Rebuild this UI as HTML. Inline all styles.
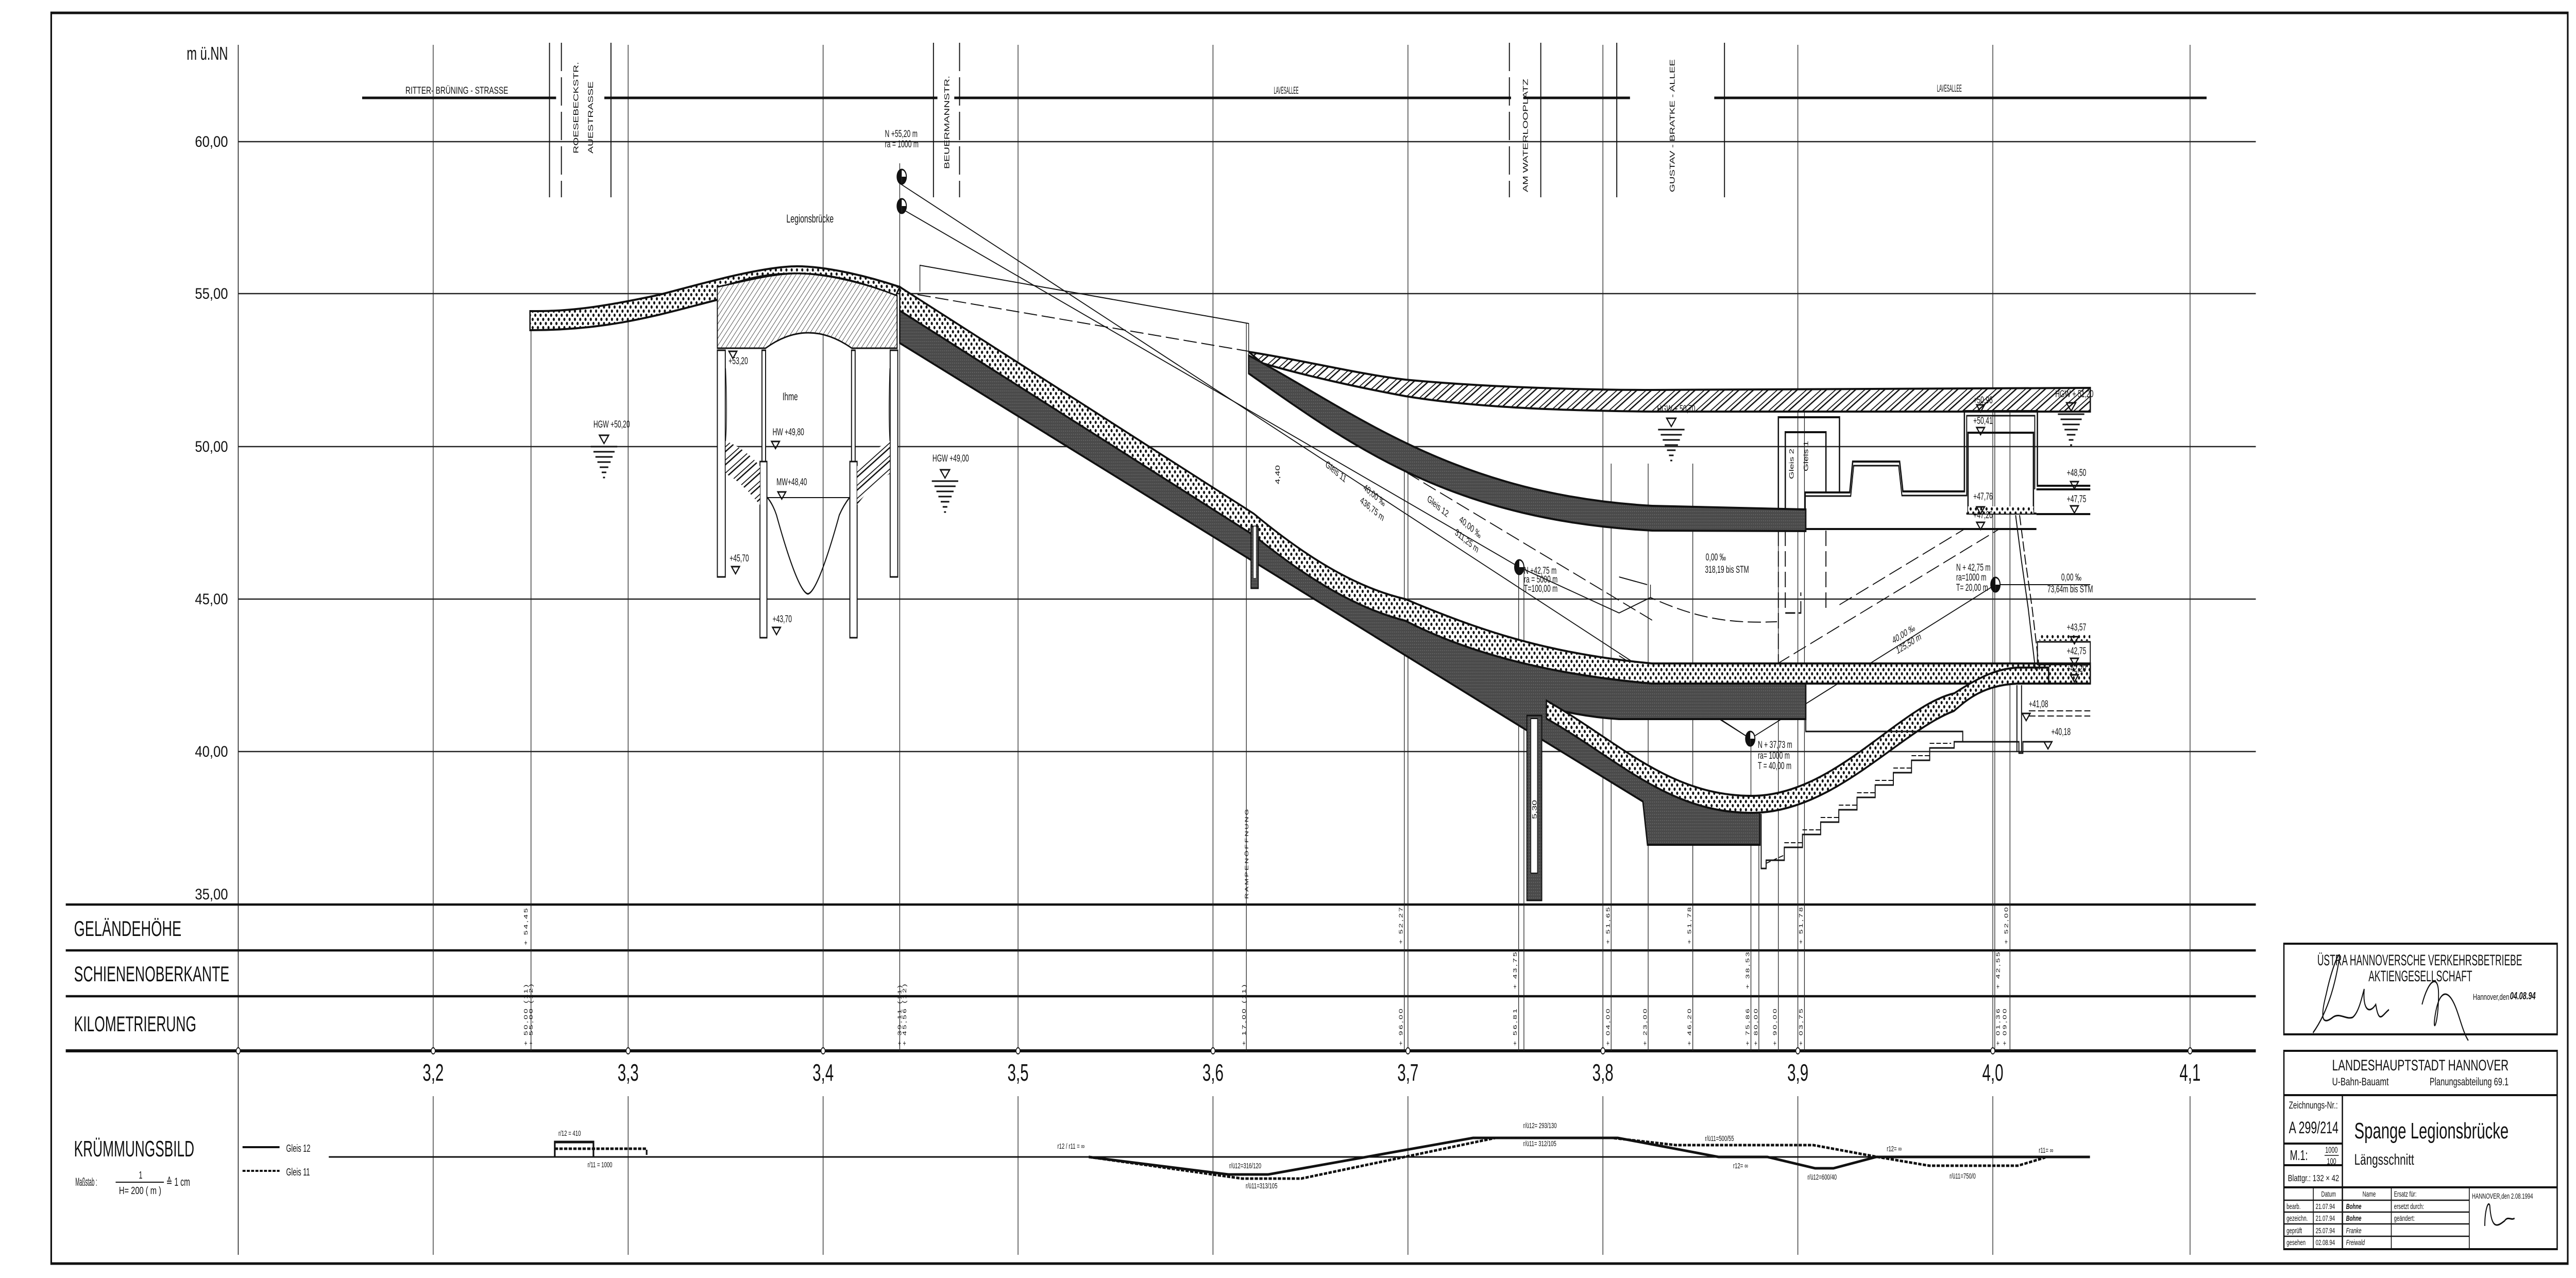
<!DOCTYPE html>
<html><head><meta charset="utf-8"><style>
html,body{margin:0;padding:0;background:#fff;width:100vw;height:100vh;overflow:hidden}
svg{display:block;width:100vw;height:100vh}
text{font-family:"Liberation Sans",sans-serif;fill:#111}
</style></head><body>
<svg viewBox="0 0 7796 2481" preserveAspectRatio="none" xmlns="http://www.w3.org/2000/svg">
<defs>
<pattern id="dots" width="16" height="16" patternUnits="userSpaceOnUse"><rect width="16" height="16" fill="#fff"/><circle cx="4" cy="4" r="3.2" fill="#111"/><circle cx="12" cy="12" r="3.2" fill="#111"/></pattern>
<pattern id="hatch" width="10" height="10" patternUnits="userSpaceOnUse" patternTransform="rotate(45)"><rect width="10" height="10" fill="#fff"/><line x1="0" y1="0" x2="0" y2="10" stroke="#222" stroke-width="2"/></pattern>
<pattern id="ground" width="22" height="22" patternUnits="userSpaceOnUse" patternTransform="rotate(60)"><rect width="22" height="22" fill="#fff"/><line x1="0" y1="0" x2="0" y2="22" stroke="#111" stroke-width="4"/><line x1="9" y1="0" x2="9" y2="22" stroke="#111" stroke-width="3"/></pattern>
<pattern id="dark" width="6" height="6" patternUnits="userSpaceOnUse"><rect width="6" height="6" fill="#4a4a4a"/><circle cx="3" cy="3" r="1.2" fill="#6a6a6a"/></pattern>
<g id="wsym"><path d="M-14,0 L14,0 L0,16 Z" fill="none" stroke="#111" stroke-width="3"/><g stroke="#111" stroke-width="3"><line x1="-40" y1="22" x2="40" y2="22"/><line x1="-32" y1="32" x2="32" y2="32"/><line x1="-26" y1="42" x2="26" y2="42"/><line x1="-20" y1="52" x2="20" y2="52"/><line x1="-13" y1="62" x2="13" y2="62"/><line x1="-7" y1="72" x2="7" y2="72"/><line x1="-3" y1="82" x2="3" y2="82"/></g></g>
<g id="tri"><path d="M-12,0 L12,0 L0,14 Z" fill="none" stroke="#111" stroke-width="3"/></g>
<g id="nsym"><circle r="14" fill="#fff" stroke="#111" stroke-width="3"/><path d="M0,-14 A14,14 0 0 0 0,14 Z" fill="#111"/><path d="M0,0 L14,0 A14,14 0 0 1 0,14 Z" fill="#111"/></g>
</defs>
<rect width="7796" height="2481" fill="#fff"/>

<rect x="155" y="25" width="7616" height="2428" fill="none" stroke="#111" stroke-width="5"/>

<g stroke="#222" stroke-width="2.5">
<line x1="721" y1="87" x2="721" y2="2436"/>
<line x1="721" y1="275" x2="6827" y2="275"/>
<line x1="721" y1="570" x2="6827" y2="570"/>
<line x1="721" y1="867" x2="6827" y2="867"/>
<line x1="721" y1="1163" x2="6827" y2="1163"/>
<line x1="721" y1="1459" x2="6827" y2="1459"/>
</g>
<g stroke="#111" stroke-width="4.5">
<line x1="199" y1="1756" x2="6827" y2="1756"/>
<line x1="199" y1="1845" x2="6827" y2="1845"/>
<line x1="199" y1="1934" x2="6827" y2="1934"/>
<line x1="199" y1="2040" x2="6827" y2="2040" stroke-width="6"/>
</g>
<g stroke="#222" stroke-width="2">
<line x1="1311" y1="87" x2="1311" y2="2040"/><line x1="1901" y1="87" x2="1901" y2="2040"/><line x1="2491" y1="87" x2="2491" y2="2040"/><line x1="3081" y1="87" x2="3081" y2="2040"/><line x1="3671" y1="87" x2="3671" y2="2040"/><line x1="4261" y1="87" x2="4261" y2="2040"/><line x1="4851" y1="87" x2="4851" y2="2040"/><line x1="5441" y1="87" x2="5441" y2="2040"/><line x1="6031" y1="87" x2="6031" y2="2040"/><line x1="6628" y1="87" x2="6628" y2="2040"/>
<line x1="1311" y1="2128" x2="1311" y2="2436"/><line x1="1901" y1="2128" x2="1901" y2="2436"/><line x1="2491" y1="2128" x2="2491" y2="2436"/><line x1="3081" y1="2128" x2="3081" y2="2436"/><line x1="3671" y1="2128" x2="3671" y2="2436"/><line x1="4261" y1="2128" x2="4261" y2="2436"/><line x1="4851" y1="2128" x2="4851" y2="2436"/><line x1="5441" y1="2128" x2="5441" y2="2436"/><line x1="6031" y1="2128" x2="6031" y2="2436"/><line x1="6628" y1="2128" x2="6628" y2="2436"/>
<line x1="1607" y1="641" x2="1607" y2="2040"/>
<line x1="2723" y1="317" x2="2723" y2="2040"/>
<line x1="3772" y1="628" x2="3772" y2="2040"/>
<line x1="4250" y1="900" x2="4250" y2="2040"/>
<line x1="4596" y1="1100" x2="4596" y2="2040"/><line x1="4612" y1="1100" x2="4612" y2="2040"/>
<line x1="4876" y1="900" x2="4876" y2="2040"/>
<line x1="4988" y1="900" x2="4988" y2="2040"/>
<line x1="5123" y1="900" x2="5123" y2="2040"/>
<line x1="5299" y1="1430" x2="5299" y2="2040"/><line x1="5323" y1="1560" x2="5323" y2="2040"/><line x1="5382" y1="960" x2="5382" y2="2040"/>
<line x1="5461" y1="780" x2="5461" y2="2040"/>
<line x1="6037" y1="780" x2="6037" y2="2040"/><line x1="6083" y1="780" x2="6083" y2="2040"/>
</g>
<g fill="#fff" stroke="#111" stroke-width="2"><circle cx="721" cy="2040" r="6"/><circle cx="1311" cy="2040" r="6"/><circle cx="1901" cy="2040" r="6"/><circle cx="2491" cy="2040" r="6"/><circle cx="3081" cy="2040" r="6"/><circle cx="3671" cy="2040" r="6"/><circle cx="4261" cy="2040" r="6"/><circle cx="4851" cy="2040" r="6"/><circle cx="5441" cy="2040" r="6"/><circle cx="6031" cy="2040" r="6"/><circle cx="6628" cy="2040" r="6"/></g>

<text x="690" y="116" font-size="36" text-anchor="end" textLength="125" lengthAdjust="spacingAndGlyphs">m ü.NN</text>
<g font-size="30" text-anchor="end">
<text x="690" y="285" textLength="100" lengthAdjust="spacingAndGlyphs">60,00</text>
<text x="690" y="580" textLength="100" lengthAdjust="spacingAndGlyphs">55,00</text>
<text x="690" y="877" textLength="100" lengthAdjust="spacingAndGlyphs">50,00</text>
<text x="690" y="1173" textLength="100" lengthAdjust="spacingAndGlyphs">45,00</text>
<text x="690" y="1469" textLength="100" lengthAdjust="spacingAndGlyphs">40,00</text>
<text x="690" y="1746" textLength="100" lengthAdjust="spacingAndGlyphs">35,00</text>
</g>
<g font-size="42">
<text x="224" y="1817" textLength="325" lengthAdjust="spacingAndGlyphs">GELÄNDEHÖHE</text>
<text x="224" y="1905" textLength="470" lengthAdjust="spacingAndGlyphs">SCHIENENOBERKANTE</text>
<text x="224" y="2002" textLength="370" lengthAdjust="spacingAndGlyphs">KILOMETRIERUNG</text>
</g>
<g font-size="46" text-anchor="middle">
<text x="1311" y="2098" textLength="64" lengthAdjust="spacingAndGlyphs">3,2</text><text x="1901" y="2098" textLength="64" lengthAdjust="spacingAndGlyphs">3,3</text><text x="2491" y="2098" textLength="64" lengthAdjust="spacingAndGlyphs">3,4</text><text x="3081" y="2098" textLength="64" lengthAdjust="spacingAndGlyphs">3,5</text><text x="3671" y="2098" textLength="64" lengthAdjust="spacingAndGlyphs">3,6</text><text x="4261" y="2098" textLength="64" lengthAdjust="spacingAndGlyphs">3,7</text><text x="4851" y="2098" textLength="64" lengthAdjust="spacingAndGlyphs">3,8</text><text x="5441" y="2098" textLength="64" lengthAdjust="spacingAndGlyphs">3,9</text><text x="6031" y="2098" textLength="64" lengthAdjust="spacingAndGlyphs">4,0</text><text x="6628" y="2098" textLength="64" lengthAdjust="spacingAndGlyphs">4,1</text>
</g>

<g stroke="#111" stroke-width="5">
<line x1="1096" y1="190" x2="1683" y2="190"/><line x1="1829" y1="190" x2="2837" y2="190"/><line x1="2888" y1="190" x2="4573" y2="190"/><line x1="4610" y1="190" x2="4933" y2="190"/><line x1="5188" y1="190" x2="6678" y2="190"/>
</g>
<g stroke="#111" stroke-width="3">
<line x1="1663" y1="83" x2="1663" y2="383"/><line x1="1849" y1="83" x2="1849" y2="383"/><line x1="2825" y1="83" x2="2825" y2="383"/><line x1="4663" y1="83" x2="4663" y2="383"/><line x1="4893" y1="83" x2="4893" y2="383"/><line x1="5219" y1="83" x2="5219" y2="383"/>
<line x1="1699" y1="83" x2="1699" y2="383" stroke-dasharray="55,12"/><line x1="2904" y1="83" x2="2904" y2="383" stroke-dasharray="55,12"/><line x1="4568" y1="83" x2="4568" y2="383" stroke-dasharray="55,12"/>
</g>
<text x="1227" y="182" font-size="19" textLength="311" lengthAdjust="spacingAndGlyphs">RITTER- BRÜNING - STRASSE</text>
<text x="3855" y="182" font-size="19" textLength="75" lengthAdjust="spacingAndGlyphs">LAVESALLEE</text>
<text x="5862" y="178" font-size="19" textLength="75" lengthAdjust="spacingAndGlyphs">LAVESALLEE</text>
<g font-size="22">
<text transform="translate(1750,298) rotate(-90)" textLength="178" lengthAdjust="spacingAndGlyphs">ROESEBECKSTR.</text>
<text transform="translate(1795,298) rotate(-90)" textLength="140" lengthAdjust="spacingAndGlyphs">AUESTRASSE</text>
<text transform="translate(2873,328) rotate(-90)" textLength="181" lengthAdjust="spacingAndGlyphs">BEUERMANNSTR.</text>
<text transform="translate(4624,373) rotate(-90)" textLength="220" lengthAdjust="spacingAndGlyphs">AM WATERLOOPLATZ</text>
<text transform="translate(5068,373) rotate(-90)" textLength="258" lengthAdjust="spacingAndGlyphs">GUSTAV - BRATKE - ALLEE</text>
</g>

<g stroke="#111" stroke-width="2" fill="none">
<line x1="2723" y1="356" x2="5297" y2="1434"/>
<line x1="2723" y1="403" x2="4598" y2="1101"/>
<polyline points="2784,566 2784,515 3779,628 3779,719"/>
<line x1="2723" y1="566" x2="3779" y2="682" stroke-dasharray="40,14"/>
<path d="M4598,1101 L4900,1190 L4995,1160" />
<path d="M4207,898 L5000,1204" stroke-dasharray="40,14"/>
<path d="M4995,1135 L4995,1160 C5150,1205 5250,1210 5378,1207" stroke-dasharray="40,14"/>
<path d="M5378,1289 L6048,1028" stroke-dasharray="40,14"/>
<path d="M5567,1174 L5943,1028" stroke-dasharray="40,14"/>
<line x1="4900" y1="1273" x2="5297" y2="1434"/>
<line x1="5297" y1="1434" x2="6039" y2="1135"/>
<line x1="6039" y1="1135" x2="6326" y2="1135"/>
<line x1="4900" y1="1120" x2="4985" y2="1135"/>
</g>

<path d="M1604,604 C1700,604 1780,602 1997,572 C2100,555 2300,517 2412,517 C2500,517 2620,535 2723,557 L2711,574 C2600,545 2500,531 2412,531 C2300,531 2250,545 2180,557 L2171,582 C2000,610 1850,641 1604,641 Z" fill="url(#dots)" stroke="#111" stroke-width="4"/>
<path d="M2171,557 C2260,545 2340,531 2412,531 C2500,531 2620,550 2715,574 L2715,676 L2578,676 Q2445,616 2317,676 L2171,676 Z" fill="url(#hatch)" stroke="#111" stroke-width="3"/>
<g fill="#fff" stroke="#111" stroke-width="3">
<rect x="2171" y="680" width="24" height="440"/><rect x="2694" y="680" width="23" height="440"/>
<rect x="2306" y="680" width="11" height="216"/><rect x="2577" y="680" width="11" height="216"/>
<rect x="2300" y="896" width="21" height="342"/><rect x="2572" y="896" width="22" height="342"/>
</g>
<path d="M2196,856 C2250,870 2280,890 2300,905 L2300,980 C2260,950 2230,930 2196,920 Z" fill="url(#ground)"/>
<path d="M2693,856 C2650,870 2620,890 2594,905 L2594,980 C2630,950 2660,930 2693,920 Z" fill="url(#ground)"/>
<path d="M2321,965 C2335,975 2345,990 2350,1000 C2380,1070 2420,1150 2445,1153 C2470,1150 2510,1070 2540,1000 C2550,985 2560,975 2572,965" fill="none" stroke="#111" stroke-width="3"/>
<line x1="2321" y1="966" x2="2572" y2="966" stroke="#111" stroke-width="2"/>
<path d="M2196,715 C2200,780 2200,820 2196,856 M2693,715 C2690,780 2690,820 2693,856" stroke="#111" stroke-width="2" fill="none"/>

<path d="M2723,603 L3794,1039 C3950,1120 4100,1180 4253,1205 C4450,1270 4700,1310 5000,1327 L5465,1327 L5465,1396 L4900,1396 C4800,1392 4720,1380 4680,1372 L4900,1470 L5100,1530 L5326,1570 L5326,1640 L4986,1640 L4972,1556 L4606,1412 L2723,666 Z" fill="url(#dark)" stroke="#111" stroke-width="4"/>
<path d="M2723,557 L3794,997 C3950,1080 4100,1140 4253,1163 C4500,1230 4700,1270 5000,1288 L6326,1288 L6326,1327 L5000,1327 C4700,1310 4450,1270 4253,1205 C4100,1180 3950,1120 3794,1039 L2723,603 Z" fill="url(#dots)" stroke="#111" stroke-width="4"/>
<path d="M4680,1360 C4900,1440 5050,1545 5302,1545 C5550,1545 5750,1370 5914,1346 C6000,1310 6050,1298 6106,1296 L6200,1296 L6200,1327 L6106,1327 C6000,1330 5950,1360 5914,1380 C5750,1420 5550,1578 5302,1578 C5050,1578 4900,1475 4680,1395 Z" fill="url(#dots)" stroke="#111" stroke-width="4"/>
<path d="M3779,683 C3950,700 4100,725 4253,737 C4500,752 4800,757 5000,757 L6326,753 L6326,799 L5000,799 C4700,797 4450,790 4253,769 C4050,745 3900,720 3820,705 Z" fill="url(#ground)" stroke="#111" stroke-width="4"/>
<path d="M3779,690 C4100,800 4400,960 5000,982 L5465,989 L5465,1031 L5000,1030 C4400,1010 4100,870 3779,725 Z" fill="url(#dark)" stroke="#111" stroke-width="4"/>
<rect x="3786" y="1022" width="22" height="120" fill="url(#dark)" stroke="#111" stroke-width="3"/><rect x="3794" y="1022" width="7" height="100" fill="#fff"/>
<rect x="4621" y="1389" width="45" height="359" fill="url(#dark)" stroke="#111" stroke-width="3"/><rect x="4633" y="1395" width="20" height="300" fill="#fff" stroke="#111" stroke-width="2"/>

<g fill="none" stroke="#111" stroke-width="3">
<path d="M5330,1580 L5330,1686 L5345,1686 L5345,1670 L5400,1670 L5400,1645 L5455,1645 L5455,1620 L5510,1620 L5510,1596 L5565,1596 L5565,1572 L5620,1572 L5620,1548 L5675,1548 L5675,1524 L5730,1524 L5730,1500 L5785,1500 L5785,1476 L5840,1476 L5840,1452 L5914,1452 L5914,1440 L6110,1440 L6110,1462 L6122,1462 L6122,1440 L6210,1440"/>
<path d="M5345,1676 L5400,1660 M5400,1636 L5455,1636 M5455,1611 L5510,1611 M5510,1587 L5565,1587 M5565,1563 L5620,1563 M5620,1539 L5675,1539 M5675,1515 L5730,1515 M5730,1491 L5785,1491 M5785,1467 L5840,1467 M5840,1443 L5905,1443" stroke-width="2" stroke-dasharray="14,6"/>
<path d="M5465,1396 L5465,1420 L5940,1420 L5940,1440"/>
<path d="M6104,1330 L6104,1460 M6118,1330 L6118,1460"/>
<path d="M6140,1390 L6326,1390 M6140,1380 L6326,1380" stroke-width="2" stroke-dasharray="20,8"/>
</g>

<g fill="none" stroke="#111" stroke-width="4">
<polyline points="5382,990 5382,810 5567,810 5567,956"/>
<polyline points="5403,990 5403,839 5526,839 5526,956"/>
<polyline points="5463,990 5463,956 5598,956 5607,896 5749,896 5759,954 5945,954 5945,798 6166,798 6166,943 6326,943"/>
<polyline points="5463,963 5601,963 5610,904 5746,904 5756,962 5952,962 5952,807 6158,807 6158,950" stroke-width="3"/>
<line x1="5463" y1="1027" x2="6163" y2="1027"/>
<polyline points="5956,997 5956,840 6154,840 6154,997"/>
<line x1="5951" y1="997" x2="6163" y2="997"/>
<line x1="6163" y1="998" x2="6326" y2="998"/>
<line x1="6163" y1="950" x2="6326" y2="950"/>
</g>
<rect x="5956" y="983" width="198" height="14" fill="url(#dots)"/>
<g fill="none" stroke="#111" stroke-width="3" stroke-dasharray="30,10">
<polyline points="5382,1030 5382,1290"/><polyline points="5403,1030 5403,1190 5450,1190 5450,1150"/><polyline points="5526,1030 5526,1180"/>
</g>
<g fill="none" stroke="#111" stroke-width="3">
<polyline points="6100,1000 6118,1090 6138,1180 6160,1300"/><polyline points="6112,1000 6130,1090 6150,1180 6172,1300" stroke-dasharray="20,6"/>
<rect x="6166" y="1246" width="160" height="44"/>
</g>
<rect x="6172" y="1232" width="154" height="12" fill="url(#dots)"/>

<use href="#nsym" x="2729" y="343"/><use href="#nsym" x="2729" y="400"/>
<use href="#nsym" x="4598" y="1101"/><use href="#nsym" x="6039" y="1135"/><use href="#nsym" x="5297" y="1434"/>
<use href="#wsym" x="1828" y="845"/><use href="#wsym" x="2860" y="912"/><use href="#wsym" x="5058" y="812"/><use href="#wsym" x="6268" y="782"/>
<use href="#tri" x="2218" y="682"/><use href="#tri" x="2226" y="1100"/><use href="#tri" x="2350" y="1218"/><use href="#tri" x="2347" y="857"/><use href="#tri" x="2366" y="955"/>
<use href="#tri" x="5994" y="786"/><use href="#tri" x="5994" y="830"/><use href="#tri" x="5994" y="984"/><use href="#tri" x="5994" y="1014"/>
<use href="#tri" x="6278" y="935"/><use href="#tri" x="6278" y="982"/><use href="#tri" x="6278" y="1236"/><use href="#tri" x="6278" y="1278"/><use href="#tri" x="6278" y="1310"/><use href="#tri" x="6132" y="1385"/><use href="#tri" x="6198" y="1440"/>

<g font-size="19">
<text x="2380" y="432" font-size="22">Legionsbrücke</text>
<text x="2368" y="777" font-size="21">Ihme</text>
<text x="1796" y="830">HGW +50,20</text>
<text x="2822" y="896">HGW +49,00</text>
<text x="2205" y="707">+53,20</text>
<text x="2208" y="1090">+45,70</text>
<text x="2338" y="1208">+43,70</text>
<text x="2338" y="845">HW +49,80</text>
<text x="2350" y="942">MW+48,40</text>
<text x="2678" y="266">N +55,20 m</text>
<text x="2678" y="286">ra = 1000 m</text>
<text x="5015" y="800">HGW + 50,70</text>
<text x="6220" y="771">HGW + 51,20</text>
<text x="5972" y="783">+50,96</text>
<text x="5972" y="823">+50,41</text>
<text x="5972" y="970">+47,76</text>
<text x="5972" y="1006">+47,26</text>
<text x="6255" y="924">+48,50</text>
<text x="6255" y="975">+47,75</text>
<text x="6255" y="1224">+43,57</text>
<text x="6255" y="1270">+42,75</text>
<text x="6255" y="1304">+42,20</text>
<text x="6140" y="1373">+41,08</text>
<text x="6208" y="1427">+40,18</text>
<text x="5162" y="1088">0,00 ‰</text>
<text x="5160" y="1112">318,19 bis STM</text>
<text x="5920" y="1108">N + 42,75 m</text>
<text x="5920" y="1127">ra=1000 m</text>
<text x="5920" y="1147">T= 20,00 m</text>
<text x="6238" y="1127">0,00 ‰</text>
<text x="6196" y="1150">73,64m bis STM</text>
<text x="5320" y="1452">N + 37,73 m</text>
<text x="5320" y="1473">ra= 1000 m</text>
<text x="5320" y="1493">T = 40,00 m</text>
<text x="4612" y="1114">N +42,75 m</text>
<text x="4612" y="1131">ra = 5000 m</text>
<text x="4612" y="1149">T=100,00 m</text>
<text transform="translate(5730,1250) rotate(-22)">40,00 ‰</text>
<text transform="translate(5742,1270) rotate(-22)">125,50 m</text>
<text transform="translate(4010,905) rotate(28)">Gleis 11</text>
<text transform="translate(4125,950) rotate(28)">40,00 ‰</text>
<text transform="translate(4115,975) rotate(28)">436,75 m</text>
<text transform="translate(4318,972) rotate(28)">Gleis 12</text>
<text transform="translate(4415,1012) rotate(28)">40,00 ‰</text>
<text transform="translate(4402,1037) rotate(28)">311,25 m</text>
<text transform="translate(3873,940) rotate(-90)">4,40</text>
<text transform="translate(4650,1590) rotate(-90)">5,30</text>
<text transform="translate(5428,930) rotate(-90)">Gleis 2</text>
<text transform="translate(5472,915) rotate(-90)">Gleis 1</text>
<text transform="translate(3778,1745) rotate(-90)" font-size="15" letter-spacing="3">RAMPENÖFFNUNG</text>
</g>
<g font-size="16" letter-spacing="3">
<text transform="translate(1597,1835) rotate(-90)">+ 54,45</text>
<text transform="translate(1597,2030) rotate(-90)">+ 50,00 (11)</text><text transform="translate(1612,2030) rotate(-90)">+ 55,00 (12)</text>
<text transform="translate(2728,2030) rotate(-90)">+ 39,11 (11)</text><text transform="translate(2743,2030) rotate(-90)">+ 45,56 (12)</text>
<text transform="translate(3770,2030) rotate(-90)">+ 17,00 (11)</text>
<text transform="translate(4245,1833) rotate(-90)">+ 52,27</text><text transform="translate(4245,2030) rotate(-90)">+ 96,00</text>
<text transform="translate(4590,1920) rotate(-90)">+ 43,75</text><text transform="translate(4590,2030) rotate(-90)">+ 56,81</text>
<text transform="translate(4872,1833) rotate(-90)">+ 51,65</text><text transform="translate(4872,2030) rotate(-90)">+ 04,00</text>
<text transform="translate(4984,2030) rotate(-90)">+ 23,00</text>
<text transform="translate(5118,1833) rotate(-90)">+ 51,78</text><text transform="translate(5118,2030) rotate(-90)">+ 46,20</text>
<text transform="translate(5294,1920) rotate(-90)">+ 38,53</text><text transform="translate(5294,2030) rotate(-90)">+ 75,86</text><text transform="translate(5319,2030) rotate(-90)">+ 80,00</text>
<text transform="translate(5377,2030) rotate(-90)">+ 90,00</text>
<text transform="translate(5456,1833) rotate(-90)">+ 51,78</text><text transform="translate(5456,2030) rotate(-90)">+ 03,75</text>
<text transform="translate(6077,1833) rotate(-90)">+ 52,00</text><text transform="translate(6052,1920) rotate(-90)">+ 42,55</text><text transform="translate(6052,2030) rotate(-90)">+ 01,36</text><text transform="translate(6072,2030) rotate(-90)">+ 09,00</text>
</g>

<text x="224" y="2245" font-size="44" textLength="364" lengthAdjust="spacingAndGlyphs">KRÜMMUNGSBILD</text>
<text x="228" y="2302" font-size="22" textLength="66" lengthAdjust="spacingAndGlyphs">Maßstab :</text>
<text x="420" y="2288" font-size="20">1</text>
<line x1="350" y1="2295" x2="496" y2="2295" stroke="#111" stroke-width="2"/>
<text x="360" y="2318" font-size="20" textLength="128" lengthAdjust="spacingAndGlyphs">H= 200 ( m )</text>
<text x="503" y="2302" font-size="22">≙ 1 cm</text>
<line x1="734" y1="2227" x2="846" y2="2227" stroke="#111" stroke-width="4"/>
<line x1="734" y1="2273" x2="846" y2="2273" stroke="#111" stroke-width="4" stroke-dasharray="9,4"/>
<text x="866" y="2236" font-size="20">Gleis 12</text><text x="866" y="2282" font-size="20">Gleis 11</text>
<g fill="none" stroke="#111" stroke-width="5">
<line x1="995" y1="2246" x2="6325" y2="2246" stroke-width="3"/>
<polyline points="1679,2246 1679,2217 1796,2217 1796,2246"/>
<polyline points="3295,2246 3718,2280 3838,2280 4458,2209 4896,2209 5201,2246 5349,2246 5493,2268 5549,2268 5678,2246 6325,2246"/>
</g>
<g fill="none" stroke="#111" stroke-width="5" stroke-dasharray="10,4">
<polyline points="1679,2230 1957,2230 1957,2246"/>
<polyline points="3295,2246 3759,2288 3938,2288 4526,2209 4878,2209 5072,2223 5488,2223 5691,2247 5839,2263 6107,2263 6190,2247"/>
</g>
<g font-size="15">
<text x="1690" y="2205">r/12 = 410</text><text x="1778" y="2266">r/11 = 1000</text>
<text x="3200" y="2230">r12 / r11 = ∞</text>
<text x="3720" y="2268">r/ü12=316/120</text><text x="3770" y="2307">r/ü11=313/105</text>
<text x="4610" y="2190">r/ü12= 293/130</text><text x="4610" y="2225">r/ü11= 312/105</text>
<text x="5160" y="2215">r/ü11=500/55</text>
<text x="5245" y="2268">r12= ∞</text>
<text x="5470" y="2290">r/ü12=600/40</text>
<text x="5710" y="2235">r12= ∞</text>
<text x="5900" y="2288">r/ü11=750/0</text>
<text x="6170" y="2238">r11= ∞</text>
</g>

<g fill="none" stroke="#111" stroke-width="4">
<rect x="6912" y="1832" width="827" height="176"/>
<rect x="6912" y="2040" width="827" height="385"/>
<line x1="6912" y1="2126" x2="7739" y2="2126"/>
<line x1="7089" y1="2126" x2="7089" y2="2425"/>
<line x1="6912" y1="2220" x2="7089" y2="2220"/><line x1="6912" y1="2262" x2="7089" y2="2262"/>
<line x1="6912" y1="2305" x2="7739" y2="2305"/>
</g>
<g fill="none" stroke="#111" stroke-width="2.5">
<line x1="6912" y1="2330" x2="7473" y2="2330"/><line x1="6912" y1="2353" x2="7473" y2="2353"/><line x1="6912" y1="2376" x2="7473" y2="2376"/><line x1="6912" y1="2400" x2="7473" y2="2400"/>
<line x1="7001" y1="2305" x2="7001" y2="2425"/><line x1="7237" y1="2305" x2="7237" y2="2425"/><line x1="7473" y1="2305" x2="7473" y2="2425"/>
<line x1="7035" y1="2243" x2="7078" y2="2243" stroke-width="1.5"/>
</g>
<text x="7013" y="1874" font-size="30" textLength="620" lengthAdjust="spacingAndGlyphs">ÜSTRA HANNOVERSCHE VERKEHRSBETRIEBE</text>
<text x="7168" y="1905" font-size="30" textLength="314" lengthAdjust="spacingAndGlyphs">AKTIENGESELLSCHAFT</text>
<text x="7484" y="1941" font-size="17" textLength="110" lengthAdjust="spacingAndGlyphs">Hannover,den</text>
<text x="7596" y="1940" font-size="20" font-weight="bold" font-style="italic">04.08.94</text>
<g fill="none" stroke="#111" stroke-width="3">
<path d="M7000,2005 C7050,1960 7070,1900 7080,1860 C7085,1840 7060,1870 7040,1930 C7020,1980 7030,1990 7060,1975 C7080,1965 7100,1980 7120,1975 C7140,1965 7150,1930 7155,1920 C7150,1960 7170,1970 7190,1950 C7200,1990 7210,1970 7230,1960"/>
<path d="M7330,1950 C7350,1900 7380,1890 7380,1930 C7380,1990 7360,2010 7370,1970 C7380,1930 7400,1920 7420,1940 C7440,1960 7450,2000 7470,2020"/>
<path d="M7520,2380 C7520,2350 7530,2330 7535,2340 C7540,2390 7560,2380 7580,2370 C7590,2360 7600,2370 7610,2365"/>
</g>
<text x="7058" y="2078" font-size="30" textLength="534" lengthAdjust="spacingAndGlyphs">LANDESHAUPTSTADT  HANNOVER</text>
<text x="7058" y="2107" font-size="21" textLength="171" lengthAdjust="spacingAndGlyphs">U-Bahn-Bauamt</text>
<text x="7353" y="2107" font-size="21" textLength="239" lengthAdjust="spacingAndGlyphs">Planungsabteilung 69.1</text>
<text x="6927" y="2152" font-size="19" textLength="148" lengthAdjust="spacingAndGlyphs">Zeichnungs-Nr.:</text>
<text x="6927" y="2200" font-size="32" textLength="150" lengthAdjust="spacingAndGlyphs">A 299/214</text>
<text x="6930" y="2252" font-size="28">M.1:</text>
<text x="7037" y="2238" font-size="17">1000</text><text x="7042" y="2260" font-size="17">100</text>
<text x="6924" y="2293" font-size="18" textLength="155" lengthAdjust="spacingAndGlyphs">Blattgr.: 132 × 42</text>
<text x="7125" y="2210" font-size="44" textLength="467" lengthAdjust="spacingAndGlyphs">Spange  Legionsbrücke</text>
<text x="7125" y="2261" font-size="30" textLength="181" lengthAdjust="spacingAndGlyphs">Längsschnitt</text>
<g font-size="15">
<text x="7025" y="2323">Datum</text><text x="7150" y="2323">Name</text><text x="7245" y="2323">Ersatz für:</text>
<text x="6920" y="2347">bearb.</text><text x="6920" y="2370">gezeichn.</text><text x="6920" y="2394">geprüft</text><text x="6920" y="2417">gesehen</text>
<text x="7008" y="2347">21.07.94</text><text x="7008" y="2370">21.07.94</text><text x="7008" y="2394">25.07.94</text><text x="7008" y="2417">02.08.94</text>
<text x="7100" y="2347" font-style="italic" font-weight="bold">Bohne</text><text x="7100" y="2370" font-style="italic" font-weight="bold">Bohne</text><text x="7100" y="2394" font-style="italic">Franke</text><text x="7100" y="2417" font-style="italic">Freiwald</text>
<text x="7245" y="2347">ersetzt durch:</text><text x="7245" y="2370">geändert:</text>
<text x="7481" y="2327">HANNOVER,den  2.08.1994</text>
</g>
</svg>
</body></html>
